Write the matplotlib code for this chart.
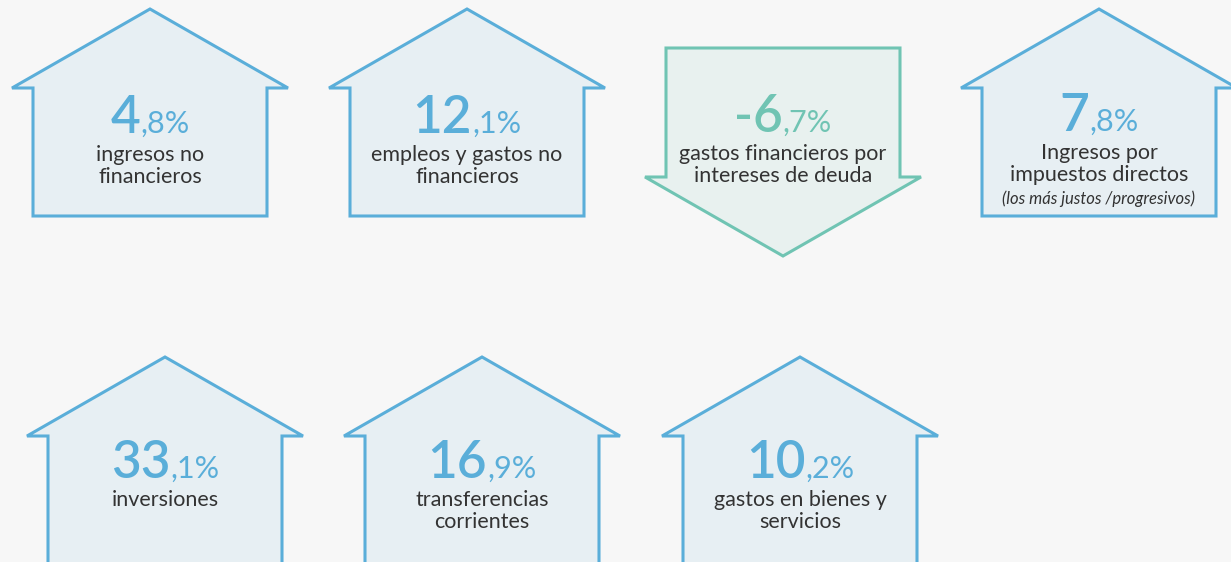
import matplotlib
matplotlib.use("Agg")
import matplotlib.pyplot as plt
from matplotlib.patches import Polygon

# values (% change) and their captions
VALUES = [4.8, 12.1, -6.7, 7.8, 33.1, 16.9, 10.2]
LABELS = [
    "ingresos no\nfinancieros",
    "empleos y gastos no\nfinancieros",
    "gastos financieros por\nintereses de deuda",
    "Ingresos por\nimpuestos directos",
    "inversiones",
    "transferencias\ncorrientes",
    "gastos en bienes y\nservicios",
]
NOTES = ["", "", "", "(los más justos /progresivos)", "", "", ""]

# layout: shape centre x, shape top y, number baseline y (pixels)
CX = [150, 467, 783, 1099, 165, 482, 800]
TOP = [9, 9, 48, 9, 357, 357, 357]
BASE = [133, 133, 132, 131, 478, 478, 478]

BG = "#f7f7f7"
BLUE = "#5aaed9"
BLUE_FILL = "#e7eff3"
TEAL = "#70c4b3"
TEAL_FILL = "#e8f1ef"
TEXT = "#333333"
FONT = "Lato"

W, H = 1231, 562
fig = plt.figure(figsize=(W / 100, H / 100), dpi=100, facecolor=BG)
ax = fig.add_axes([0, 0, 1, 1])
ax.set_xlim(0, W)
ax.set_ylim(H, 0)
ax.axis("off")
ax.set_facecolor(BG)
renderer = fig.canvas.get_renderer()


def house(cx, top, bottom):
    return [(cx, top), (cx + 138, top + 79), (cx + 117, top + 79), (cx + 117, bottom),
            (cx - 117, bottom), (cx - 117, top + 79), (cx - 138, top + 79)]


def arrow_down(cx, top):
    return [(cx - 117, top), (cx + 117, top), (cx + 117, top + 129), (cx + 138, top + 129),
            (cx, top + 208), (cx - 138, top + 129), (cx - 117, top + 129)]


def split_value(v):
    s = f"{v:.1f}".replace(".", ",")
    big, small = s.split(",")
    return big, "," + small + "%"


for i, v in enumerate(VALUES):
    cx, top, base = CX[i], TOP[i], BASE[i]
    if v < 0:
        pts, edge, fill = arrow_down(cx, top), TEAL, TEAL_FILL
    else:
        bottom = 216 if top < 100 else 620
        pts, edge, fill = house(cx, top, bottom), BLUE, BLUE_FILL
    ax.add_patch(Polygon(pts, closed=True, facecolor=fill, edgecolor=edge, lw=2.2,
                         joinstyle="miter", clip_on=True))

    big, small = split_value(v)
    tb = ax.text(0, base, big, fontsize=37, family=FONT, weight="semibold", color=edge,
                 va="baseline", ha="left")
    ts = ax.text(0, base, small, fontsize=22, family=FONT, color=edge, va="baseline", ha="left")
    wb = tb.get_window_extent(renderer).width
    ws = ts.get_window_extent(renderer).width
    x0 = cx - (wb + ws) / 2
    tb.set_x(x0)
    ts.set_x(x0 + wb)

    for j, line in enumerate(LABELS[i].split("\n")):
        ax.text(cx, base + 28 + 22 * j, line, fontsize=15.5, family=FONT, color=TEXT,
                ha="center", va="baseline")
    if NOTES[i]:
        ax.text(cx, base + 73, NOTES[i], fontsize=12, family=FONT, style="italic",
                color=TEXT, ha="center", va="baseline")

fig.savefig("out.png", dpi=100, facecolor=BG)
